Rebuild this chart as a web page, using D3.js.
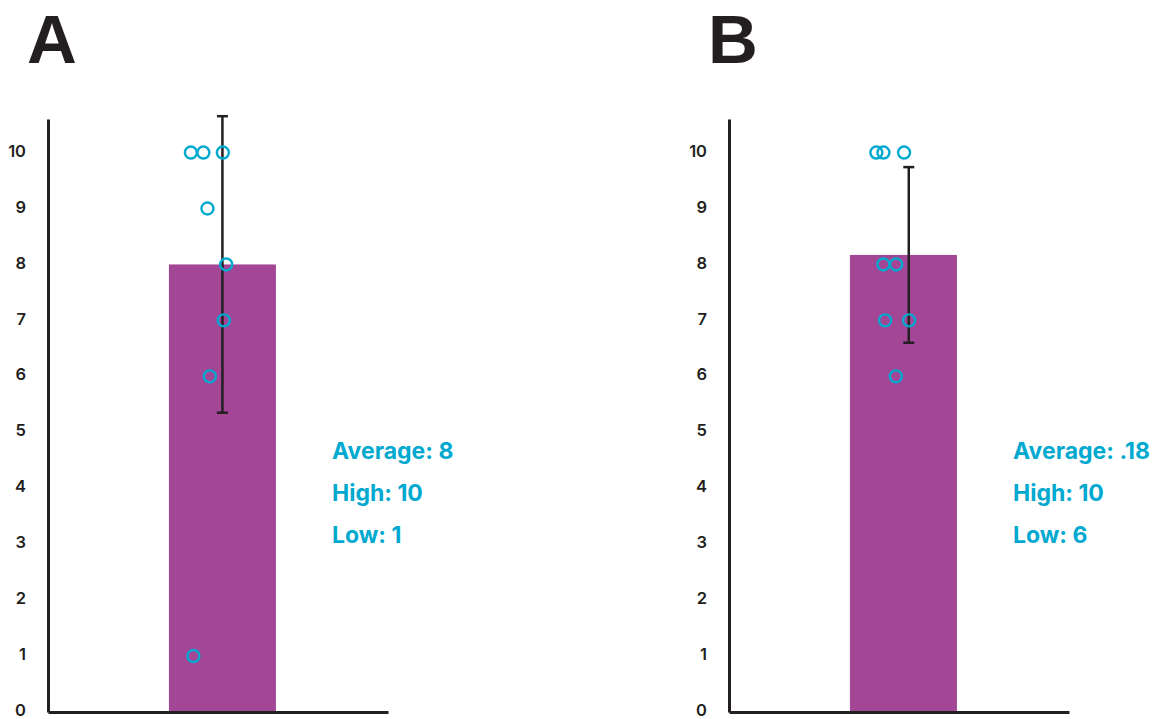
<!DOCTYPE html>
<html>
<head>
<meta charset="utf-8">
<script src="https://cdn.jsdelivr.net/npm/d3@7"></script>
<style>
  html, body { margin: 0; padding: 0; background: #fff; }
  svg { display: block; }
</style>
</head>
<body>
<svg id="chart" width="1157" height="719"></svg>
<script>
// ---- data ----
const panels = ["A", "B"];
const barMeans = [8, 8.17];
const errorSD = [2.65, 1.57];
const pointValues = [
  [10, 10, 10, 9, 8, 7, 6, 1],
  [10, 10, 10, 8, 8, 7, 7, 6]
];
// horizontal jitter of each point, as a fraction of the bar width
const pointJitter = [
  [-0.295, -0.178, 0.004, -0.14, 0.035, 0.013, -0.118, -0.271],
  [-0.253, -0.187, 0.006, -0.187, -0.068, -0.171, 0.053, -0.071]
];
const errorJitter = [0, 0.05];
const statLabels = [
  ["Average: 8", "High: 10", "Low: 1"],
  ["Average: .18", "High: 10", "Low: 6"]
];
const yTicks = [0, 1, 2, 3, 4, 5, 6, 7, 8, 9, 10];

// ---- layout ----
const svg = d3.select("#chart");
const panelLeft = [48, 729];
const panelWidth = 340;
const yTop = 119, yBottom = 712;
const barColor = "#a24695";
const dotColor = "#00a9cf";
const inkColor = "#231f20";

const y = d3.scaleLinear().domain([0, 10.6]).range([yBottom, yTop]);

panels.forEach((name, i) => {
  const x0 = panelLeft[i];
  const x = d3.scaleBand().domain([name])
    .range([x0, x0 + panelWidth])
    .paddingInner(0).paddingOuter(1.089).align(0.519);
  const bw = x.bandwidth();
  const cx = x(name) + bw / 2;
  const jit = d3.scaleLinear().domain([0, 1]).range([0, bw]);

  const g = svg.append("g");

  // panel title
  g.append("text")
    .attr("x", x0 - 21).attr("y", 63)
    .attr("font-family", "'Liberation Sans', Arial, sans-serif")
    .attr("font-weight", "bold").attr("font-size", 69)
    .attr("fill", inkColor).text(name);

  // bar
  g.append("rect")
    .attr("x", x(name)).attr("width", bw)
    .attr("y", y(barMeans[i])).attr("height", y(0) - y(barMeans[i]))
    .attr("fill", barColor);

  // error bar
  const ex = cx + jit(errorJitter[i]);
  const hi = barMeans[i] + errorSD[i], lo = barMeans[i] - errorSD[i];
  const eg = g.append("g").attr("stroke", inkColor).attr("stroke-width", 2.5);
  eg.append("line").attr("x1", ex).attr("x2", ex).attr("y1", y(hi)).attr("y2", y(lo));
  eg.append("line").attr("x1", ex - 5.5).attr("x2", ex + 5.5).attr("y1", y(hi)).attr("y2", y(hi));
  eg.append("line").attr("x1", ex - 5.5).attr("x2", ex + 5.5).attr("y1", y(lo)).attr("y2", y(lo));

  // points
  g.selectAll("circle.pt").data(pointValues[i]).join("circle")
    .attr("class", "pt")
    .attr("cx", (d, j) => cx + jit(pointJitter[i][j]))
    .attr("cy", d => y(d))
    .attr("r", 6)
    .attr("fill", "none")
    .attr("stroke", dotColor)
    .attr("stroke-width", 2.4);

  // y axis
  const ya = g.append("g").attr("transform", `translate(${x0},0)`)
    .call(d3.axisLeft(y).tickValues(yTicks).tickSizeInner(0).tickSizeOuter(0).tickPadding(22).tickFormat(d3.format("d")));
  ya.select(".domain").attr("stroke", inkColor).attr("stroke-width", 3);
  ya.selectAll("text")
    .attr("dy", "0.22em")
    .attr("font-family", "Inter, 'Noto Sans', sans-serif")
    .attr("font-weight", 600).attr("font-size", 16.5)
    .attr("fill", inkColor);

  // x axis
  const xa = g.append("g").attr("transform", `translate(0,${yBottom})`)
    .call(d3.axisBottom(x).tickSizeInner(0).tickSizeOuter(0).tickFormat(""));
  xa.select(".domain").attr("stroke", inkColor).attr("stroke-width", 3);
  xa.selectAll(".tick").remove();

  // stats text
  g.selectAll("text.stat").data(statLabels[i]).join("text")
    .attr("class", "stat")
    .attr("x", x0 + 284)
    .attr("y", (d, j) => 459 + j * 42)
    .attr("font-family", "Inter, 'Noto Sans', sans-serif")
    .attr("font-weight", 700).attr("font-size", 23)
    .attr("letter-spacing", 0)
    .attr("fill", dotColor)
    .text(d => d);
});
</script>
</body>
</html>
